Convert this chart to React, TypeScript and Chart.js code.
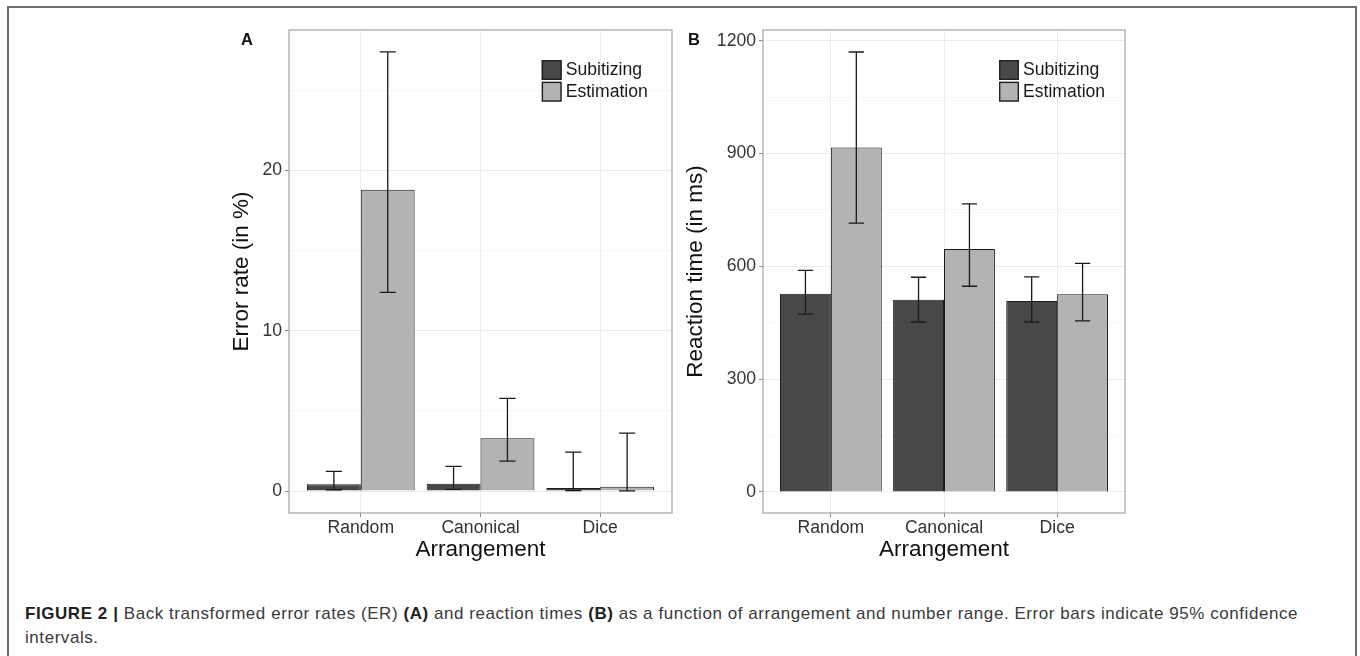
import React, { useEffect, useLayoutEffect, useRef } from "react";
import { Chart, registerables } from "chart.js";

Chart.register(...registerables);

const FONT = '"Liberation Sans", Arial, Helvetica, sans-serif';
const CAPTION_FONT = '"Liberation Sans Narrow", "Liberation Sans", Arial, sans-serif';

const categories = ["Random", "Canonical", "Dice"];
const seriesLabels = ["Subitizing", "Estimation"];
const seriesColors = ["#484848", "#b3b3b3"];

// Panel A: error rate (in %)
const erSubitizing = [0.42, 0.45, 0.19];
const erSubitizingLow = [0.08, 0.1, 0.02];
const erSubitizingHigh = [1.23, 1.54, 2.43];
const erEstimation = [18.8, 3.3, 0.27];
const erEstimationLow = [12.4, 1.87, 0.01];
const erEstimationHigh = [27.4, 5.78, 3.62];
const erTicks = [0, 5, 10, 15, 20, 25];
const erTickLabels = ["0", "", "10", "", "20", ""];

// Panel B: reaction time (in ms)
const rtSubitizing = [527, 511, 508];
const rtSubitizingLow = [473, 452, 452];
const rtSubitizingHigh = [589, 571, 572];
const rtEstimation = [916, 646, 526];
const rtEstimationLow = [715, 547, 455];
const rtEstimationHigh = [1170, 766, 608];
const rtTicks = [0, 150, 300, 450, 600, 750, 900, 1050, 1200];
const rtTickLabels = ["0", "", "300", "", "600", "", "900", "", "1200"];

const figurePlugin = {
  id: "figure",
  afterDatasetsDraw(chart: any, _args: any, opts: any) {
    const ctx = chart.ctx;
    const y = chart.scales.y;
    ctx.save();
    chart.data.datasets.forEach((ds: any, di: number) => {
      const meta = chart.getDatasetMeta(di);
      meta.data.forEach((bar: any, i: number) => {
        const x = bar.x;
        const w = bar.width * 0.3;
        const yl = y.getPixelForValue(ds.errLow[i]);
        const yh = y.getPixelForValue(ds.errHigh[i]);
        ctx.strokeStyle = "#1a1a1a";
        ctx.lineWidth = 1.3;
        ctx.beginPath();
        ctx.moveTo(x, yl);
        ctx.lineTo(x, yh);
        ctx.moveTo(x - w / 2, yl);
        ctx.lineTo(x + w / 2, yl);
        ctx.moveTo(x - w / 2, yh);
        ctx.lineTo(x + w / 2, yh);
        ctx.stroke();
      });
    });
    const a = chart.chartArea;
    ctx.strokeStyle = "#a3a3a3";
    ctx.lineWidth = 1.2;
    ctx.strokeRect(a.left, a.top, a.right - a.left, a.bottom - a.top);

    // legend
    const x0 = a.right - opts.legendRight;
    chart.data.datasets.forEach((ds: any, i: number) => {
      const y0 = a.top + opts.legendTop + i * 21.7;
      ctx.fillStyle = ds.backgroundColor;
      ctx.fillRect(x0, y0, 20, 20);
      ctx.strokeStyle = "#222";
      ctx.lineWidth = 1.4;
      ctx.strokeRect(x0 + 0.7, y0 + 0.7, 18.6, 18.6);
      ctx.fillStyle = "#1a1a1a";
      ctx.font = `17.6px ${FONT}`;
      ctx.textBaseline = "middle";
      ctx.textAlign = "left";
      ctx.fillText(ds.label, x0 + 24, y0 + 10.5);
    });
    ctx.restore();
  },
};

type Panel = {
  yTitle: string;
  yMin: number;
  yMax: number;
  ticks: number[];
  tickLabels: string[];
  sub: number[];
  subLow: number[];
  subHigh: number[];
  est: number[];
  estLow: number[];
  estHigh: number[];
  yWidth: number;
  titlePad: number;
  padRight: number;
  legendRight: number;
};

function makeConfig(p: Panel): any {
  const mk = (vals: number[], low: number[], high: number[], k: number) => ({
    label: seriesLabels[k],
    data: vals.map((v, i) => ({ x: i + 1, y: v })),
    backgroundColor: seriesColors[k],
    borderColor: "#1a1a1a",
    borderWidth: 1,
    errLow: low,
    errHigh: high,
  });
  const majorSet = new Set(p.ticks.filter((_, i) => p.tickLabels[i] !== ""));
  return {
    type: "bar",
    data: {
      datasets: [
        mk(p.sub, p.subLow, p.subHigh, 0),
        mk(p.est, p.estLow, p.estHigh, 1),
      ],
    },
    options: {
      animation: false,
      responsive: false,
      maintainAspectRatio: false,
      events: [],
      layout: { padding: { top: 30, right: p.padRight, left: 0, bottom: 0 } },
      datasets: { bar: { categoryPercentage: 0.9, barPercentage: 1.0 } },
      plugins: {
        legend: { display: false },
        tooltip: { enabled: false },
        figure: { legendRight: p.legendRight, legendTop: 30 },
      },
      scales: {
        x: {
          type: "linear",
          min: 0.4,
          max: 3.6,
          offset: false,
          afterBuildTicks: (s: any) => {
            s.ticks = categories.map((_, i) => ({ value: i + 1 }));
          },
          afterFit: (s: any) => {
            s.height = 87;
          },
          ticks: {
            autoSkip: false,
            maxRotation: 0,
            padding: 1,
            color: "#333",
            font: { family: FONT, size: 17.6 },
            callback: (v: any) => categories[Math.round(v) - 1],
          },
          grid: {
            offset: false,
            color: "#ececec",
            lineWidth: 1,
            tickColor: "#8a8a8a",
            tickLength: 4,
          },
          border: { display: false },
          title: {
            display: true,
            text: "Arrangement",
            color: "#111",
            font: { family: FONT, size: 22.5 },
            padding: { top: 0, bottom: 37 },
          },
        },
        y: {
          type: "linear",
          min: p.yMin,
          max: p.yMax,
          afterBuildTicks: (s: any) => {
            s.ticks = p.ticks.map((v) => ({ value: v }));
          },
          afterFit: (s: any) => {
            s.width = p.yWidth;
          },
          ticks: {
            autoSkip: false,
            padding: 3,
            color: "#333",
            font: { family: FONT, size: 17.6 },
            callback: (v: any) => {
              const idx = p.ticks.indexOf(v);
              return idx >= 0 ? p.tickLabels[idx] : "";
            },
          },
          grid: {
            color: (c: any) =>
              c.tick && majorSet.has(c.tick.value) ? "#ebebeb" : "#f4f4f4",
            lineWidth: (c: any) =>
              c.tick && majorSet.has(c.tick.value) ? 1 : 0.8,
            tickColor: (c: any) =>
              c.tick && majorSet.has(c.tick.value) ? "#8a8a8a" : "rgba(0,0,0,0)",
            tickLength: 4,
          },
          border: { display: false },
          title: {
            display: true,
            text: p.yTitle,
            color: "#111",
            font: { family: FONT, size: 22.5 },
            padding: { top: p.titlePad, bottom: 0 },
          },
        },
      },
    },
    plugins: [figurePlugin],
  };
}

const panelA: Panel = {
  yTitle: "Error rate (in %)",
  yMin: -1.37,
  yMax: 28.77,
  ticks: erTicks,
  tickLabels: erTickLabels,
  sub: erSubitizing,
  subLow: erSubitizingLow,
  subHigh: erSubitizingHigh,
  est: erEstimation,
  estLow: erEstimationLow,
  estHigh: erEstimationHigh,
  yWidth: 89,
  titlePad: 28.5,
  padRight: 8,
  legendRight: 130.3,
};

const panelB: Panel = {
  yTitle: "Reaction time (in ms)",
  yMin: -56,
  yMax: 1228.5,
  ticks: rtTicks,
  tickLabels: rtTickLabels,
  sub: rtSubitizing,
  subLow: rtSubitizingLow,
  subHigh: rtSubitizingHigh,
  est: rtEstimation,
  estLow: rtEstimationLow,
  estHigh: rtEstimationHigh,
  yWidth: 83,
  titlePad: 2.5,
  padRight: 35,
  legendRight: 126,
};

function ChartPanel({ panel, left }: { panel: Panel; left: number }) {
  const ref = useRef<HTMLCanvasElement | null>(null);
  useEffect(() => {
    if (!ref.current) return;
    const chart = new Chart(ref.current, makeConfig(panel));
    return () => chart.destroy();
  }, [panel]);
  return (
    <canvas
      ref={ref}
      width={480}
      height={600}
      style={{ position: "absolute", left, top: 0, width: 480, height: 600 }}
    />
  );
}

export default function App() {
  const l1 = useRef<HTMLDivElement | null>(null);
  const l2 = useRef<HTMLDivElement | null>(null);
  useLayoutEffect(() => {
    if (!l1.current || !l2.current) return;
    const target = 1273;
    l1.current.style.letterSpacing = "0px";
    const w = l1.current.getBoundingClientRect().width;
    const n = (l1.current.textContent || "").length;
    const sp = (target - w) / n;
    l1.current.style.letterSpacing = `${sp}px`;
    l2.current.style.letterSpacing = `${sp}px`;
  }, []);
  const capStyle: React.CSSProperties = {
    position: "absolute",
    left: 25,
    whiteSpace: "nowrap",
    fontFamily: CAPTION_FONT,
    fontSize: 17,
    lineHeight: "24px",
    color: "#3a3a3a",
  };
  const labelStyle: React.CSSProperties = {
    position: "absolute",
    top: 31,
    fontFamily: FONT,
    fontWeight: "bold",
    fontSize: 16.5,
    lineHeight: 1,
    color: "#111",
  };
  return (
    <div
      style={{
        position: "absolute",
        left: 0,
        top: 0,
        width: 1360,
        height: 656,
        overflow: "hidden",
        background: "#fff",
      }}
    >
      <div
        style={{
          position: "absolute",
          left: 7,
          top: 6,
          width: 1350,
          height: 720,
          boxSizing: "border-box",
          border: "2px solid #6e6e6e",
        }}
      />
      <ChartPanel panel={panelA} left={200} />
      <ChartPanel panel={panelB} left={680} />
      <div style={{ ...labelStyle, left: 241 }}>A</div>
      <div style={{ ...labelStyle, left: 688 }}>B</div>
      <div ref={l1} style={{ ...capStyle, top: 602, display: "inline-block" }}>
        <b style={{ color: "#222" }}>FIGURE 2 | </b>
        Back transformed error rates (ER) <b style={{ color: "#222" }}>(A)</b> and
        reaction times <b style={{ color: "#222" }}>(B)</b> as a function of
        arrangement and number range. Error bars indicate 95% confidence
      </div>
      <div ref={l2} style={{ ...capStyle, top: 626, display: "inline-block" }}>
        intervals.
      </div>
    </div>
  );
}
